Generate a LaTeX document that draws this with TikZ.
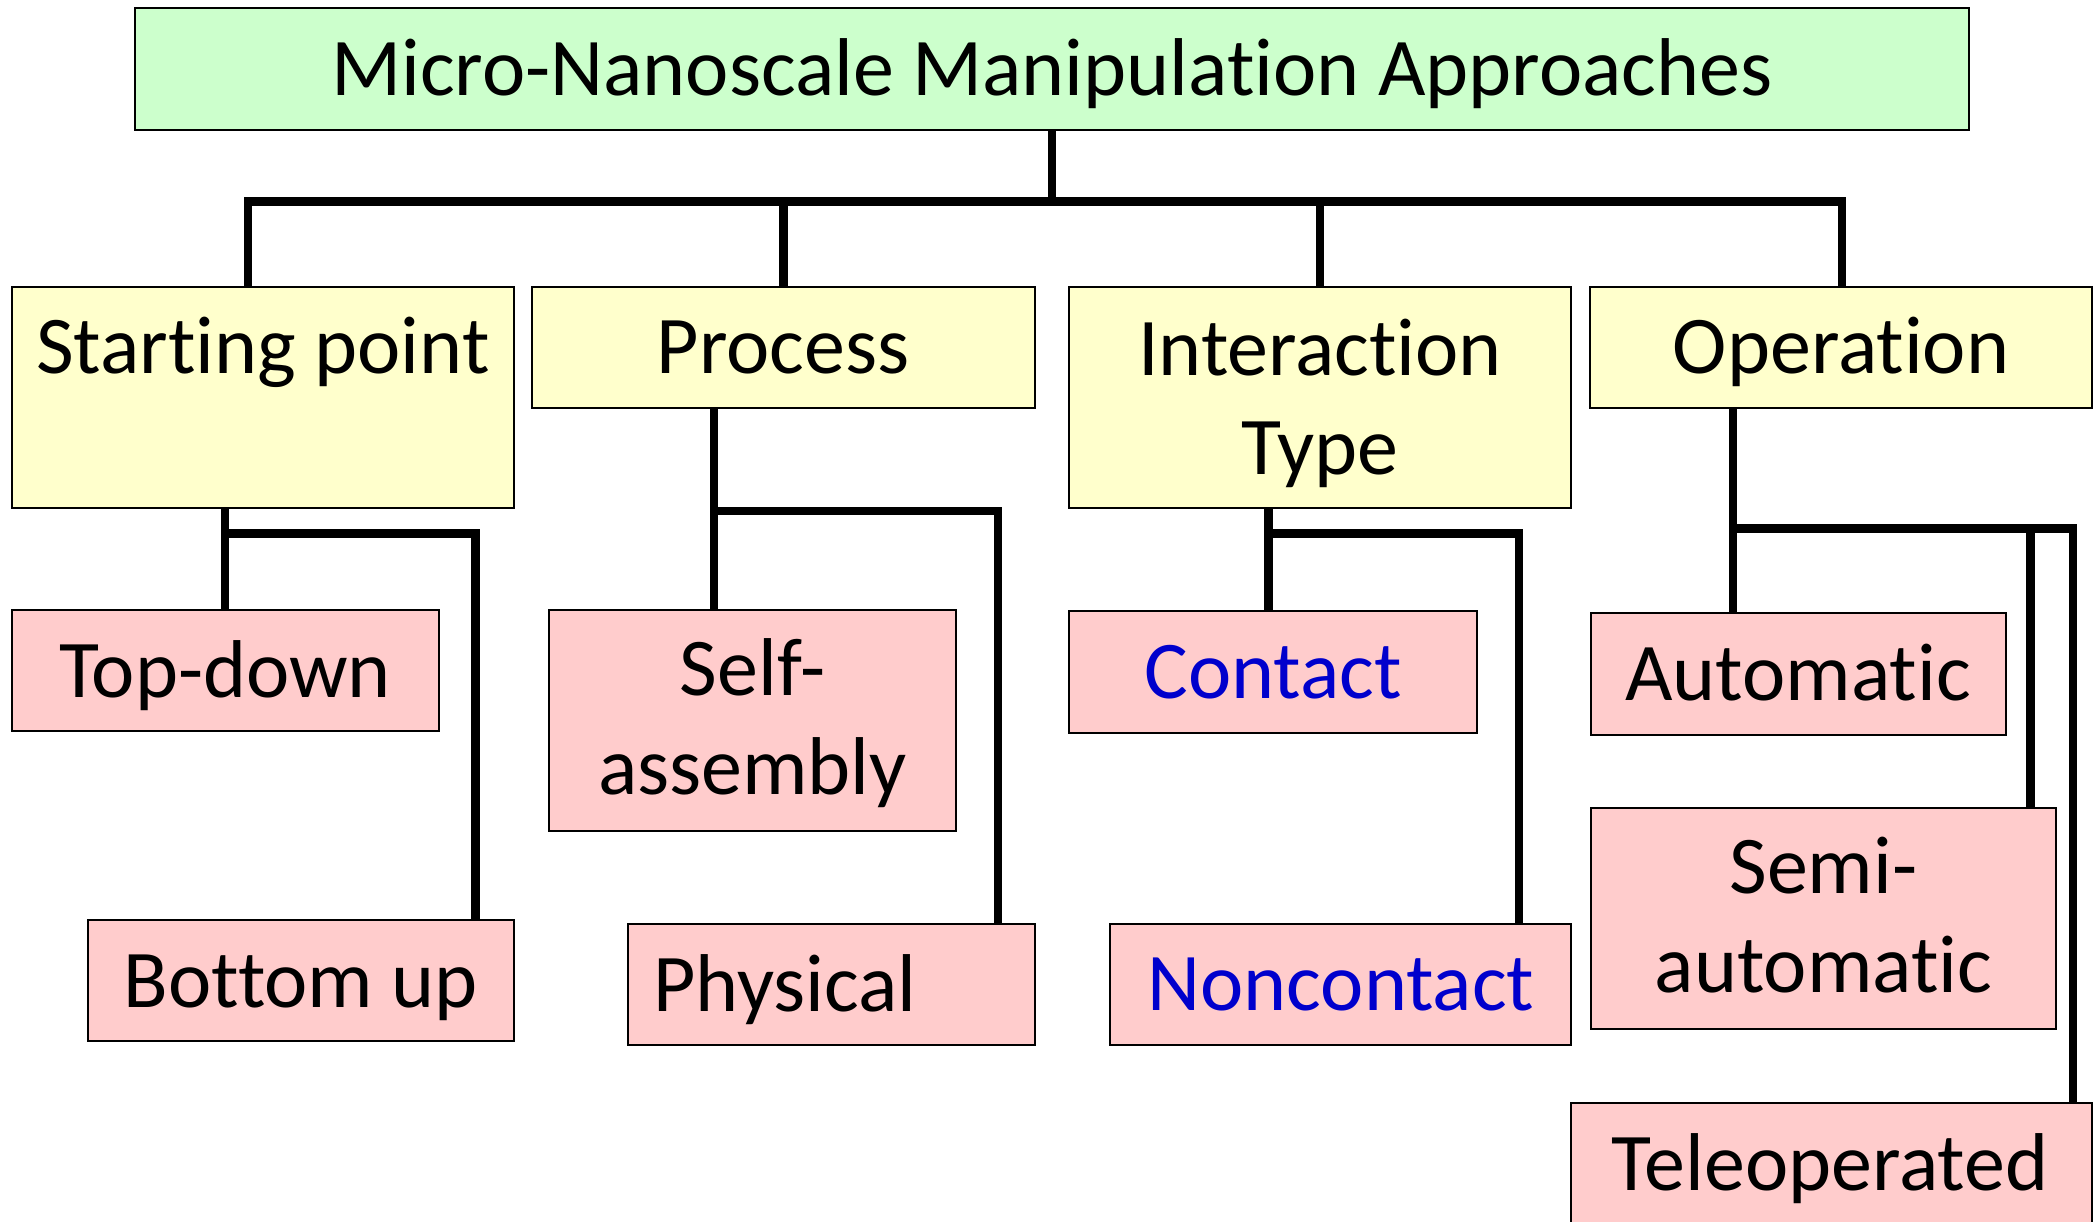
\documentclass[tikz,border=0pt]{standalone}
\usepackage{fontspec}
\setmainfont{Carlito}[Ligatures={NoCommon}]
\definecolor{boxgreen}{RGB}{204,255,204}
\definecolor{boxyellow}{RGB}{255,255,204}
\definecolor{boxpink}{RGB}{255,204,204}
\definecolor{txtblue}{RGB}{0,0,204}
\begin{document}
\begin{tikzpicture}[x=1pt,y=-1pt,
  box/.style={draw=black, line width=2pt, anchor=north west, inner sep=0pt, outer sep=0pt},
  greenbox/.style={box, fill=boxgreen},
  yellowbox/.style={box, fill=boxyellow},
  pinkbox/.style={box, fill=boxpink},
  conn/.style={draw=black, line width=8.5pt, line join=miter},
  lbl/.style={font=\fontsize{82}{99}\selectfont, anchor=base, inner sep=0pt, align=center}]
\path[use as bounding box] (0,0) rectangle (2100,1222);
\clip (0,0) rectangle (2100,1222);
% boxes
\node[greenbox, minimum width=1834.4pt, minimum height=121.8pt] (title) at (135,7.9) {};
\node[yellowbox, minimum width=502pt, minimum height=221pt] (sp) at (12,286.7) {};
\node[yellowbox, minimum width=502.6pt, minimum height=121.3pt] (pr) at (532,286.7) {};
\node[yellowbox, minimum width=502pt, minimum height=221pt] (it) at (1069,286.7) {};
\node[yellowbox, minimum width=502pt, minimum height=121.3pt] (op) at (1590,286.7) {};
\node[pinkbox, minimum width=426.6pt, minimum height=121.4pt] (td) at (12,609.6) {};
\node[pinkbox, minimum width=426.6pt, minimum height=121.1pt] (bu) at (87.7,919.9) {};
\node[pinkbox, minimum width=407pt, minimum height=221pt] (sa) at (549,609.6) {};
\node[pinkbox, minimum width=407.1pt, minimum height=121.1pt] (ph) at (627.5,923.6) {};
\node[pinkbox, minimum width=407.8pt, minimum height=122pt] (ct) at (1068.8,610.5) {};
\node[pinkbox, minimum width=460.7pt, minimum height=121.1pt] (nc) at (1110.3,923.6) {};
\node[pinkbox, minimum width=414.6pt, minimum height=122pt] (au) at (1591,612.8) {};
\node[pinkbox, minimum width=464.8pt, minimum height=220.9pt] (sm) at (1591,807.6) {};
\node[pinkbox, minimum width=521pt, minimum height=200pt] (te) at (1571,1103) {};
% texts
\node[lbl] (title-t) at (1052,96) {Micro-Nanoscale Manipulation Approaches};
\node[lbl] (sp-t) at (263,373.7) {Starting point};
\node[lbl] (pr-t) at (783,373.7) {Process};
\node[lbl] (it-t) at (1320,474.5) {Interaction\\Type};
\node[lbl] (op-t) at (1841,373.7) {Operation};
\node[lbl] (td-t) at (225,697) {Top-down};
\node[lbl] (bu-t) at (301,1007.8) {Bottom up};
\node[lbl] (sa-t) at (752.5,794.7) {Self-\\assembly};
\node[lbl, anchor=base west] (ph-t) at (653,1011) {Physical};
\node[lbl, text=txtblue] (ct-t) at (1273,698) {Contact};
\node[lbl, text=txtblue] (nc-t) at (1341,1010) {Noncontact};
\node[lbl] (au-t) at (1798,700) {Automatic};
\node[lbl] (sm-t) at (1823.4,992.6) {Semi-\\automatic};
\node[lbl] (te-t) at (1830,1190.6) {Teleoperated};
% connectors
\coordinate (bL) at (248,201.7);
\coordinate (bR) at (1842,201.7);
\draw[conn] (title.south) -- (title.south |- bL);
\draw[conn] (bL |- sp.north) -- (bL) -- (bR) -- (bR |- op.north);
\draw[conn] (pr.north) -- (pr.north |- bL);
\draw[conn] (it.north) -- (it.north |- bL);
\coordinate (s1) at (225,533.7);
\coordinate (s2) at (475.5,533.7);
\draw[conn] (s1 |- sp.south) -- (s1 |- td.north);
\draw[conn] (s1) -- (s2) -- (s2 |- bu.north);
\coordinate (p1) at (714,511);
\coordinate (p2) at (998,511);
\draw[conn] (p1 |- pr.south) -- (p1 |- sa.north);
\draw[conn] (p1) -- (p2) -- (p2 |- ph.north);
\coordinate (i1) at (1268.3,533.6);
\coordinate (i2) at (1518.8,533.6);
\draw[conn] (i1 |- it.south) -- (i1 |- ct.north);
\draw[conn] (i1) -- (i2) -- (i2 |- nc.north);
\coordinate (o1) at (1733,528.5);
\coordinate (o2) at (2030.4,528.5);
\coordinate (o3) at (2073,528.5);
\draw[conn] (o1 |- op.south) -- (o1 |- au.north);
\draw[conn] (o1) -- (o3) -- (o3 |- te.north);
\draw[conn] (o2) -- (o2 |- sm.north);
\end{tikzpicture}
\end{document}
